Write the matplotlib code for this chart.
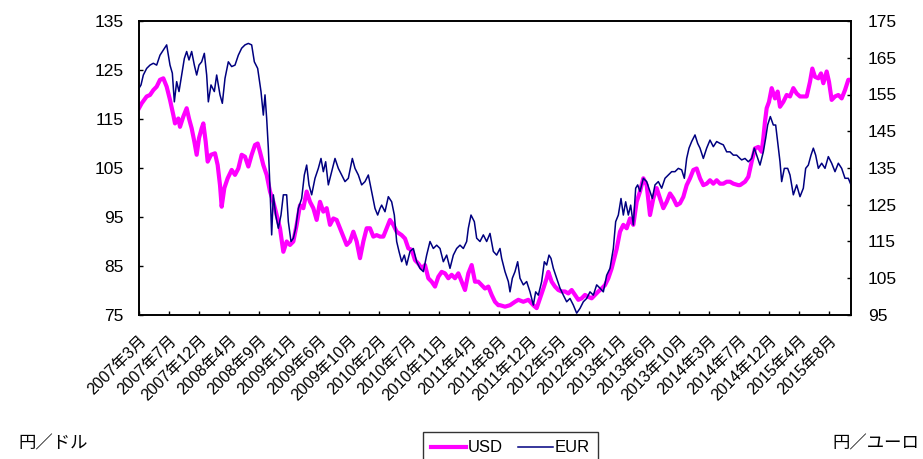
import matplotlib
matplotlib.use("Agg")
import matplotlib.pyplot as plt
from matplotlib.lines import Line2D

plt.rcParams['font.family'] = ['Liberation Sans', 'Noto Sans CJK JP']

# x = trading-day index from 2007/3 start
usd_day = [0, 8, 23, 33, 43, 53, 63, 73, 83, 93, 103, 108, 118, 123, 133, 143, 150, 158, 166, 173,
           180, 188, 193, 200, 206, 216, 228, 236, 243, 248, 256, 266, 278, 288, 298, 308, 318, 328,
           338, 348, 356, 363, 373, 383, 393, 403, 413, 423, 433, 443, 453, 463, 473, 483, 493, 503,
           513, 523, 533, 543, 553, 563, 573, 583, 593, 603, 613, 623, 633, 643, 653, 663, 673, 683,
           693, 703, 713, 723, 733, 743, 753, 763, 773, 788, 798, 808, 818, 828, 838, 848, 858, 868,
           878, 888, 898, 908, 918, 928, 938, 948, 958, 968, 978, 988, 998, 1008, 1018, 1028, 1038,
           1048, 1058, 1068, 1078, 1083, 1098, 1113, 1128, 1138, 1153, 1168, 1183, 1193, 1203, 1213,
           1223, 1228, 1238, 1248, 1258, 1268, 1278, 1288, 1298, 1308, 1318, 1328, 1338, 1348, 1358,
           1368, 1378, 1388, 1398, 1408, 1418, 1428, 1433, 1443, 1453, 1463, 1473, 1483, 1493, 1503,
           1513, 1523, 1533, 1543, 1553, 1563, 1573, 1583, 1593, 1603, 1613, 1623, 1633, 1643, 1653,
           1663, 1673, 1683, 1693, 1703, 1713, 1723, 1733, 1743, 1753, 1763, 1773, 1783, 1798, 1803,
           1818, 1828, 1838, 1848, 1858, 1868, 1873, 1878, 1883, 1890, 1898, 1908, 1916, 1923, 1933,
           1943, 1953, 1963, 1973, 1983, 1993, 2003, 2013, 2020, 2028, 2038, 2046, 2053, 2063, 2070,
           2078, 2088, 2098, 2108, 2118, 2128, 2136]
usd = [117.2, 118.2, 119.6, 119.9, 120.9, 121.6, 123.0, 123.3, 121.6, 118.9, 115.8, 114.1, 115.1, 113.4,
       115.5, 117.2, 115.1, 113.1, 110.4, 107.7, 111.1, 113.1, 114.1, 110.4, 106.3, 107.7, 108.0, 105.6,
       101.5, 97.1, 100.9, 102.9, 104.6, 103.6, 104.9, 107.7, 107.3, 105.3, 107.7, 109.7, 110.0, 108.3,
       105.6, 103.6, 100.2, 98.1, 95.4, 92.7, 87.9, 90.0, 89.3, 90.0, 93.4, 97.4, 96.8, 100.2, 98.1,
       96.8, 94.4, 98.1, 96.1, 96.8, 93.4, 94.7, 94.4, 92.7, 91.0, 89.3, 90.0, 92.0, 90.0, 86.6, 90.0,
       92.7, 92.7, 91.0, 91.3, 91.0, 91.0, 92.7, 94.4, 93.4, 92.0, 91.3, 90.6, 88.6, 88.3, 86.2, 85.5,
       84.5, 85.2, 82.5, 81.8, 80.8, 82.8, 83.8, 83.5, 82.5, 83.2, 82.5, 83.5, 81.8, 80.1, 83.5, 85.2,
       81.8, 81.8, 81.1, 80.4, 80.8, 79.1, 77.7, 77.0, 77.0, 76.7, 77.0, 77.7, 78.1, 77.7, 78.1, 77.0,
       76.4, 78.4, 80.4, 82.5, 83.8, 81.8, 80.8, 80.1, 79.8, 79.8, 79.4, 80.1, 79.1, 78.1, 78.4, 79.1,
       78.7, 78.4, 79.1, 79.8, 80.4, 81.1, 82.5, 84.5, 87.2, 88.5, 92.0, 93.4, 92.7, 94.7, 93.4, 98.1,
       100.2, 102.9, 101.5, 95.4, 98.8, 100.9, 98.8, 96.8, 98.1, 99.8, 98.8, 97.4, 97.8, 99.1, 101.5,
       102.9, 104.6, 104.9, 102.9, 101.5, 101.8, 102.5, 101.8, 102.5, 101.8, 101.8, 102.2, 102.2, 101.8,
       101.5, 101.5, 102.2, 103.2, 106.3, 109.0, 109.3, 108.3, 111.1, 114.5, 117.2, 118.5, 121.3, 119.2,
       120.6, 117.5, 118.5, 119.9, 119.6, 121.3, 120.2, 119.6, 119.6, 119.6, 122.6, 125.3, 123.6, 123.3,
       124.3, 122.3, 124.7, 122.6, 118.9, 119.6, 119.9, 119.2, 120.9, 123.0, 123.0]

eur_day = [0, 6, 13, 23, 33, 43, 53, 63, 73, 83, 93, 100, 106, 113, 120, 128, 136, 143, 150, 158, 166,
           173, 180, 188, 196, 203, 208, 216, 226, 233, 243, 250, 258, 268, 278, 288, 298, 308, 318,
           328, 338, 346, 356, 366, 373, 378, 383, 388, 393, 398, 403, 410, 418, 426, 433, 443, 448,
           456, 463, 470, 478, 488, 496, 503, 510, 518, 528, 538, 546, 553, 560, 568, 578, 588, 598,
           608, 618, 628, 640, 648, 658, 668, 678, 688, 698, 708, 716, 723, 728, 738, 748, 758, 766,
           773, 780, 788, 796, 803, 813, 823, 833, 843, 853, 863, 873, 883, 893, 903, 913, 923, 933,
           943, 953, 963, 973, 983, 988, 996, 1006, 1013, 1023, 1033, 1043, 1053, 1063, 1073, 1083,
           1088, 1098, 1108, 1113, 1120, 1128, 1136, 1143, 1153, 1163, 1173, 1183, 1190, 1198, 1208,
           1216, 1223, 1230, 1236, 1243, 1253, 1263, 1273, 1283, 1293, 1303, 1313, 1323, 1333, 1343,
           1353, 1363, 1373, 1383, 1393, 1403, 1413, 1423, 1430, 1438, 1446, 1453, 1460, 1468, 1475,
           1483, 1490, 1496, 1503, 1513, 1523, 1533, 1540, 1548, 1558, 1568, 1578, 1588, 1598, 1608,
           1618, 1628, 1636, 1643, 1650, 1658, 1668, 1676, 1683, 1693, 1703, 1713, 1723, 1733, 1743,
           1753, 1763, 1773, 1783, 1793, 1803, 1808, 1818, 1828, 1838, 1846, 1853, 1863, 1873, 1880,
           1886, 1894, 1903, 1910, 1916, 1923, 1928, 1936, 1946, 1953, 1963, 1973, 1983, 1993, 2000,
           2008, 2016, 2023, 2030, 2038, 2048, 2058, 2068, 2078, 2088, 2098, 2108, 2118, 2128, 2136]
eur = [156.7, 157.6, 160.3, 162.1, 163.0, 163.5, 163.0, 165.7, 167.1, 168.5, 163.0, 160.8, 153.0, 158.5,
       155.8, 160.3, 164.8, 166.7, 164.4, 166.7, 163.0, 160.3, 163.0, 163.9, 166.2, 160.3, 153.0, 157.6,
       155.8, 160.3, 154.9, 152.6, 159.4, 163.9, 162.6, 163.0, 165.7, 167.6, 168.5, 168.9, 168.5, 163.9,
       162.1, 155.8, 149.4, 154.9, 148.5, 140.4, 129.5, 116.8, 127.7, 122.2, 118.6, 122.2, 127.7, 127.7,
       120.4, 115.0, 115.9, 118.6, 124.0, 126.7, 133.1, 135.8, 130.4, 127.7, 132.2, 134.9, 137.6, 134.0,
       136.7, 130.4, 134.0, 137.6, 134.9, 133.1, 131.3, 132.2, 137.6, 134.9, 133.1, 130.4, 131.3, 133.1,
       128.6, 124.0, 122.2, 124.0, 124.9, 123.1, 127.2, 125.8, 122.2, 115.0, 112.3, 109.5, 111.3, 108.6,
       112.3, 113.1, 109.5, 107.7, 106.8, 111.3, 115.0, 113.1, 114.0, 113.1, 109.5, 111.3, 107.7, 111.3,
       113.1, 114.0, 113.1, 115.0, 118.6, 122.2, 120.4, 115.9, 115.0, 116.8, 115.0, 117.2, 112.3, 111.3,
       113.1, 110.4, 106.8, 104.1, 101.3, 105.0, 106.8, 109.5, 105.0, 103.2, 104.1, 101.3, 97.7, 101.3,
       100.4, 104.1, 109.5, 108.6, 111.3, 110.4, 107.7, 105.0, 102.3, 100.4, 98.6, 99.5, 97.7, 95.5,
       96.8, 98.6, 99.5, 101.3, 100.4, 103.2, 102.3, 101.3, 105.8, 107.7, 113.1, 120.4, 122.2, 126.7,
       122.2, 125.8, 122.2, 124.9, 119.5, 129.5, 130.4, 128.6, 132.2, 131.3, 128.6, 126.7, 130.4, 131.3,
       129.5, 132.2, 133.1, 134.0, 134.0, 134.9, 134.5, 132.2, 137.6, 140.4, 142.2, 144.0, 141.7, 140.4,
       137.6, 140.4, 142.6, 140.8, 142.2, 141.7, 141.3, 139.4, 139.4, 138.5, 138.5, 137.6, 137.2, 137.6,
       136.7, 137.6, 140.4, 138.5, 135.8, 139.4, 143.1, 146.7, 149.0, 146.7, 146.7, 142.2, 136.7, 131.3,
       134.9, 134.9, 133.1, 127.7, 130.4, 127.2, 129.5, 134.9, 135.8, 138.5, 140.4, 138.5, 134.9, 136.3,
       134.9, 138.1, 136.3, 134.0, 136.3, 134.9, 132.2, 132.2, 130.4]

tick_labels = ["2007年3月", "2007年7月", "2007年12月", "2008年4月", "2008年9月", "2009年1月",
               "2009年6月", "2009年10月", "2010年2月", "2010年7月", "2010年11月", "2011年4月",
               "2011年8月", "2011年12月", "2012年5月", "2012年9月", "2013年1月", "2013年6月",
               "2013年10月", "2014年3月", "2014年7月", "2014年12月", "2015年4月", "2015年8月"]
tick_step = 90  # trading days between labels

USD_COL = "#FF00FF"
EUR_COL = "#000080"

fig = plt.figure(figsize=(9.23, 4.59), dpi=100)
ax = fig.add_axes([139/923, 1-315/459, 712/923, 294/459])
ax2 = ax.twinx()

ax.plot(usd_day, usd, color=USD_COL, lw=3.0, solid_joinstyle="round")
ax2.plot(eur_day, eur, color=EUR_COL, lw=1.1)

ax.set_xlim(0, 2136)
ax.set_ylim(75, 135)
ax2.set_ylim(95, 175)
ax.set_yticks(range(75, 136, 10))
ax2.set_yticks(range(95, 176, 10))
ax.set_xticks([i*tick_step for i in range(len(tick_labels))])
ax.set_xticklabels(tick_labels, rotation=45, ha="right", rotation_mode="anchor")

for a in (ax, ax2):
    for s in a.spines.values():
        s.set_linewidth(1.2)
ax.tick_params(axis="both", direction="in", length=3, width=1, labelsize=12.5, pad=11)
ax.tick_params(axis="x", labelsize=11.5, pad=13)
ax2.tick_params(axis="y", direction="in", length=3, width=1, labelsize=12.5, pad=12)

fig.text(18/923, 1-443/459, "円／ドル", fontsize=12.5, va="center", ha="left")
fig.text(832/923, 1-443/459, "円／ユーロ", fontsize=12.5, va="center", ha="left")

handles = [Line2D([], [], color=USD_COL, lw=3.0), Line2D([], [], color=EUR_COL, lw=1.1)]
leg = fig.legend(handles, ["USD", "EUR"], loc="upper left", bbox_to_anchor=(423/923, 1-432/459),
                 ncol=2, frameon=True, fancybox=False, fontsize=12, handlelength=2.1,
                 columnspacing=0.9, handletextpad=0.1, borderpad=0.5, borderaxespad=0)
leg.get_frame().set_edgecolor("black")
leg.get_frame().set_linewidth(1.0)

fig.savefig("out.png", dpi=100)
